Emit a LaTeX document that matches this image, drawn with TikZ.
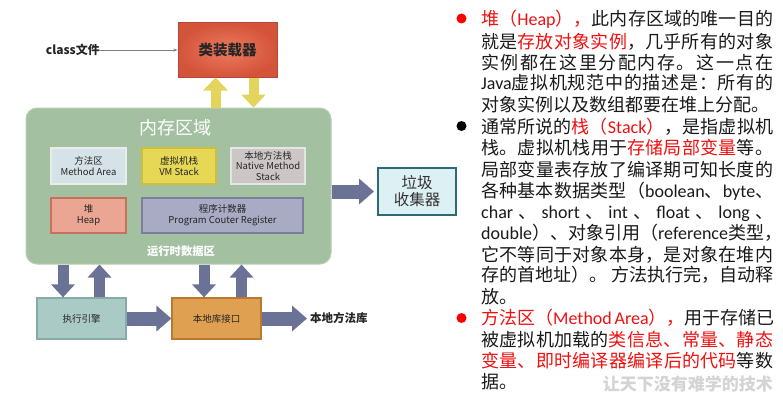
\documentclass[tikz,border=0pt]{standalone}
\usepackage{fontspec}
\setmainfont{Noto Sans CJK SC}
\newfontfamily\lat{Carlito}
\usetikzlibrary{arrows.meta,calc}

\definecolor{textred}{HTML}{F01010}
\definecolor{textblack}{HTML}{1A1A1A}
\definecolor{loaderin}{HTML}{EC7A60}
\definecolor{loaderout}{HTML}{D4543A}
\definecolor{loaderbd}{HTML}{B5473A}
\definecolor{memfill}{HTML}{A3C1A1}
\definecolor{membd}{HTML}{B8CFB6}
\definecolor{mafill}{HTML}{D5E2E7}
\definecolor{vmfill}{HTML}{E6D755}
\definecolor{vmbd}{HTML}{CDBF3C}
\definecolor{nsfill}{HTML}{CCC7C6}
\definecolor{heapfill}{HTML}{EAA593}
\definecolor{heapbd}{HTML}{C8705E}
\definecolor{pcfill}{HTML}{A9AAC3}
\definecolor{pcbd}{HTML}{7C7E9C}
\definecolor{execfill}{HTML}{AACAC5}
\definecolor{execbd}{HTML}{86AAA5}
\definecolor{iffill}{HTML}{DFA052}
\definecolor{ifbd}{HTML}{B87A30}
\definecolor{gcfill}{HTML}{DDF0F4}
\definecolor{gcbd}{HTML}{2D6B74}
\definecolor{arrblue}{HTML}{6A7396}
\definecolor{arryellow}{HTML}{E2D45C}
\definecolor{wmgray}{HTML}{D4D4D4}

% inter-character stretch for CJK justification
\XeTeXinterchartokenstate=1
\newXeTeXintercharclass\CJKc
\newcount\cjkcnt
\def\setcjkrange#1#2{\cjkcnt=#1\relax\loop\XeTeXcharclass\cjkcnt=\CJKc\advance\cjkcnt by 1\relax\ifnum\cjkcnt<#2\relax\repeat}
\setcjkrange{"3000}{"3040}
\setcjkrange{"4E00}{"A000}
\setcjkrange{"FF00}{"FFF0}
\XeTeXinterchartoks\CJKc\CJKc={\hskip0pt plus 1pt\relax}
\XeTeXinterchartoks 0 \CJKc={\hskip0pt plus 1pt\relax}
\XeTeXinterchartoks\CJKc 0 ={\hskip0pt plus 1pt\relax}

\newcommand\hl[1]{\textcolor{textred}{#1}}

\tikzset{
  rtext/.style={anchor=base west, inner sep=0pt, font=\fontsize{18}{20}\selectfont, text=textblack},
  areabox/.style={inner sep=0pt, align=center, line width=1.2pt, font=\fontsize{9.5}{11}\selectfont, text=black!85},
  fatblue/.style={draw=arrblue, line width=11pt, -{Triangle[width=23pt,length=13pt]}},
  fatblueh/.style={draw=arrblue, line width=14pt, -{Triangle[width=25pt,length=15pt]}},
  fatyellow/.style={draw=arryellow, line width=10pt, -{Triangle[width=24pt,length=13pt]}},
  bulletdot/.style={circle, inner sep=0pt, minimum size=10pt}
}
\newcommand\tline[3]{\node[rtext] (#1) at (481,#2) {\hbox to 292pt{#3}};}
\newcommand\nline[3]{\node[rtext] (#1) at (481,#2) {#3};}

\begin{document}
\begin{tikzpicture}[x=1pt,y=-1pt]
\fill[white] (0,0) rectangle (783,404);
\useasboundingbox (0,0) rectangle (783,404);

% ---------- left diagram ----------
\node[draw=loaderbd, line width=1pt, inner color=loaderin, outer color=loaderout,
      minimum width=99pt, minimum height=54pt, inner sep=0pt,
      font=\bfseries\fontsize{14.5}{16}\selectfont, text=black!85] (loader) at (227.5,50) {类装载器};
\node[anchor=east, inner sep=0pt, font=\bfseries\fontsize{12}{14}\selectfont, text=black!85] (cls) at (100,50) {class文件};
\draw[gray, line width=0.6pt, -{Stealth[length=4pt,width=3pt]}] (cls.east) -- (loader.west);

\node[draw=membd, line width=1pt, fill=memfill, rounded corners=11pt,
      minimum width=305pt, minimum height=156pt] (mem) at (178.5,186) {};
\node[text=white, inner sep=0pt, font=\fontsize{18}{20}\selectfont] (memtitle) at (175,128) {内存区域};

\node[areabox, draw=white!92!black, fill=mafill, minimum width=75pt, minimum height=36pt] (ma) at (88.5,166) {方法区\\Method Area};
\node[areabox, draw=vmbd, fill=vmfill, minimum width=74pt, minimum height=36pt] (vm) at (179,166) {虚拟机栈\\VM Stack};
\node[areabox, draw=white!90!black, fill=nsfill, minimum width=74pt, minimum height=36pt, font=\fontsize{9.5}{10.5}\selectfont] (ns) at (268,166) {本地方法栈\\Native Method\\Stack};
\node[areabox, draw=heapbd, fill=heapfill, minimum width=75pt, minimum height=35pt] (heap) at (88.5,215.5) {堆\\Heap};
\node[areabox, draw=pcbd, fill=pcfill, minimum width=161pt, minimum height=35pt] (pc) at (222.5,215.5) {程序计数器\\Program Couter Register};
\node[text=white, inner sep=0pt, font=\bfseries\fontsize{11.3}{13}\selectfont] (rt) at (181,251) {运行时数据区};

\node[draw=gcbd, line width=2pt, fill=gcfill, minimum width=78pt, minimum height=47pt, inner sep=0pt,
      align=center, font=\fontsize{15.5}{17}\selectfont, text=black!80] (gc) at (417,191.5) {垃圾\\收集器};

\node[areabox, draw=execbd, fill=execfill, minimum width=89pt, minimum height=41pt] (exec) at (81.5,318.5) {执行引擎};
\node[areabox, draw=ifbd, fill=iffill, minimum width=89pt, minimum height=41pt] (iface) at (216.5,318.5) {本地库接口};
\node[anchor=west, inner sep=0pt, font=\bfseries\fontsize{11.5}{13}\selectfont, text=black!85] (lib) at (310,318.5) {本地方法库};

% arrows
\draw[fatyellow] ([xshift=-12pt]loader.south |- mem.north) -- ([xshift=-12pt]loader.south);
\draw[fatyellow] ([xshift=26pt]loader.south) -- ([xshift=26pt]loader.south |- mem.north);
\draw[fatblueh, shorten >=3pt] (mem.east |- gc.west) -- (gc.west);
\draw[fatblue] ([xshift=-18.5pt]exec.north |- mem.south) -- ([xshift=-18.5pt]exec.north);
\draw[fatblue] ([xshift=18pt]exec.north) -- ([xshift=18pt]exec.north |- mem.south);
\draw[fatblue] ([xshift=-12.5pt]iface.north |- mem.south) -- ([xshift=-12.5pt]iface.north);
\draw[fatblue] ([xshift=25pt]iface.north) -- ([xshift=25pt]iface.north |- mem.south);
\draw[fatblueh] (exec.east) -- (iface.west);
\draw[fatblueh, shorten >=3pt] (iface.east) -- (lib.west);

% ---------- right text ----------
\node[bulletdot, fill=red] (b1) at (461.5,18.5) {};
\node[bulletdot, fill=black] (b2) at (461.5,126) {};
\node[bulletdot, fill=red] (b3) at (461.5,318) {};

\tline{t1}{25.7}{\hl{堆（{\lat Heap}），}此内存区域的唯一目的}
\tline{t2}{48.7}{就是\hl{存放对象实例}，几乎所有的对象}
\tline{t3}{69.7}{实例都在这里分配内存。这一点在}
\tline{t4}{89.7}{{\lat Java}虚拟机规范中的描述是：所有的}
\nline{t5}{111.7}{对象实例以及数组都要在堆上分配。}
\tline{t6}{133.7}{通常所说的\hl{栈（{\lat Stack}）}，是指虚拟机}
\tline{t7}{154.7}{栈。虚拟机栈用于\hl{存储局部变量}等。}
\tline{t8}{176.7}{局部变量表存放了编译期可知长度的}
\tline{t9}{197.7}{各种基本数据类型（{\lat boolean}、{\lat byte}、}
\tline{t10}{218.7}{{\lat char} 、 {\lat short} 、 {\lat int} 、 {\lat float} 、 {\lat long} 、}
\nline{t11}{239.7}{{\lat double}）、对象引用（{\lat reference}类型，}
\tline{t12}{261.7}{它不等同于对象本身，是对象在堆内}
\tline{t13}{281.7}{存的首地址）。 方法执行完，自动释}
\nline{t14}{303.7}{放。}
\tline{t15}{324.7}{\hl{方法区（{\lat Method Area}），}用于存储已}
\tline{t16}{346.7}{被虚拟机加载的\hl{类信息、常量、静态}}
\tline{t17}{367.7}{\hl{变量、即时编译器编译后的代码}等数}
\nline{t18}{388.7}{据。}
\node[anchor=base east, inner sep=0pt, text=wmgray, font=\bfseries\fontsize{17}{19}\selectfont] (wm) at (773,390) {让天下没有难学的技术};
\end{tikzpicture}
\end{document}
